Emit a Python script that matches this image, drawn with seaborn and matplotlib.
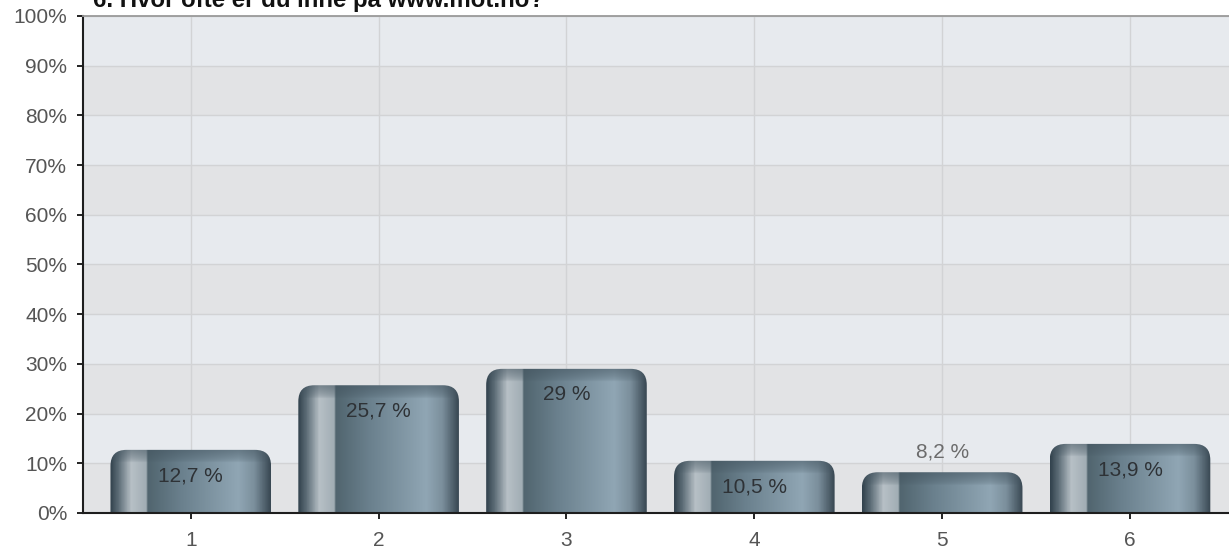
import numpy as np
import pandas as pd
import seaborn as sns
import matplotlib.pyplot as plt
from matplotlib.patches import FancyBboxPatch
from matplotlib.colors import LinearSegmentedColormap, to_rgb

# data
categories = ['1', '2', '3', '4', '5', '6']
values = [12.7, 25.7, 29.0, 10.5, 8.2, 13.9]
value_labels = ['12,7 %', '25,7 %', '29 %', '10,5 %', '8,2 %', '13,9 %']
title = '6. Hvor ofte er du inne på www.mot.no?'
yticks = list(range(0, 101, 10))

# horizontal colour profile of the "cylinder" bars
profile = LinearSegmentedColormap.from_list('bar', [
    (0.00, '#33434e'), (0.05, '#5d6d77'), (0.13, '#b7c0c6'), (0.22, '#a2aeb5'),
    (0.235, '#51656f'), (0.45, '#6b818e'), (0.80, '#90a6b4'), (0.90, '#7b8f9c'),
    (1.00, '#3a4954')])
cap_color = np.array(to_rgb('#42535e'))


def shaded_image(height, bottom, ny=300, nx=200, cap=2.6):
    xs = np.linspace(0, 1, nx)
    row = profile(xs)[:, :3]
    ys = np.linspace(bottom, height, ny)
    t = np.clip((ys - (height - cap)) / cap, 0, 1) ** 0.6
    img = row[None, :, :] * (1 - t[:, None, None]) + \
        (0.45 * row[None, :, :] + 0.55 * cap_color) * t[:, None, None]
    return img


def main():
    df = pd.DataFrame({'kategori': categories, 'andel': values})

    sns.set_style('white')
    plt.rcParams['font.family'] = ['Liberation Sans', 'DejaVu Sans']

    fig = plt.figure(figsize=(12.29, 5.5), dpi=100)
    ax = fig.add_axes([0.0675, 0.0673, 0.9325, 0.9037])
    ax.set_facecolor('#e7eaed')

    sns.barplot(data=df, x='kategori', y='andel', width=0.855, ax=ax, zorder=2)

    # alternating background bands
    for lo, hi in zip(yticks[:-1], yticks[1:]):
        col = '#e7eaee' if (lo // 10) % 2 == 1 else '#e2e3e5'
        ax.axhspan(lo, hi, color=col, zorder=0.1, lw=0)

    # replace the flat bars with rounded, shaded ones
    for p, val in zip(ax.patches[:len(values)], values):
        x0, w, h = p.get_x(), p.get_width(), p.get_height()
        p.set_visible(False)
        box = FancyBboxPatch((x0, -6), w, h + 6,
                             boxstyle='round,pad=0,rounding_size=0.085',
                             mutation_aspect=38, facecolor='none',
                             edgecolor='none', zorder=2)
        ax.add_patch(box)
        im = ax.imshow(shaded_image(h, -6), extent=(x0, x0 + w, -6, h),
                       origin='lower', aspect='auto', interpolation='bilinear',
                       zorder=2)
        im.set_clip_path(box)

    # value labels
    for i, (val, lab) in enumerate(zip(values, value_labels)):
        if val >= 10:
            ax.text(i, val - 5.2, lab, ha='center', va='center',
                    fontsize=15, color='#2e3236', zorder=3)
        else:
            ax.text(i, val + 4.1, lab, ha='center', va='center',
                    fontsize=15, color='#6b6b6b', zorder=3)

    ax.set_xlim(-0.574, 5.527)
    ax.set_ylim(0, 100)
    ax.set_yticks(yticks)
    ax.set_yticklabels([f'{v}%' for v in yticks])
    ax.set_xlabel('')
    ax.set_ylabel('')

    ax.grid(True, color='#d2d3d5', lw=1)
    ax.set_axisbelow(True)

    ax.tick_params(axis='y', length=4.3, width=1.4, color='#222222',
                   labelsize=15, labelcolor='#555555', pad=7, left=True)
    ax.tick_params(axis='x', length=4.3, width=1.4, color='#222222',
                   labelsize=15, labelcolor='#555555', pad=9, bottom=True)

    for s in ['left', 'bottom']:
        ax.spines[s].set_color('#1e1e1e')
        ax.spines[s].set_linewidth(1.5)
    ax.spines['top'].set_color('#9a9a9a')
    ax.spines['top'].set_linewidth(1.3)
    ax.spines['right'].set_visible(False)

    # title sits partly above the top edge, as in the reference
    fig.text(93 / 1229, 1 - 7 / 550, title, fontsize=17.3, fontweight='bold',
             color='#111111', va='baseline', ha='left')

    fig.savefig('out.png', dpi=100)


if __name__ == '__main__':
    main()
